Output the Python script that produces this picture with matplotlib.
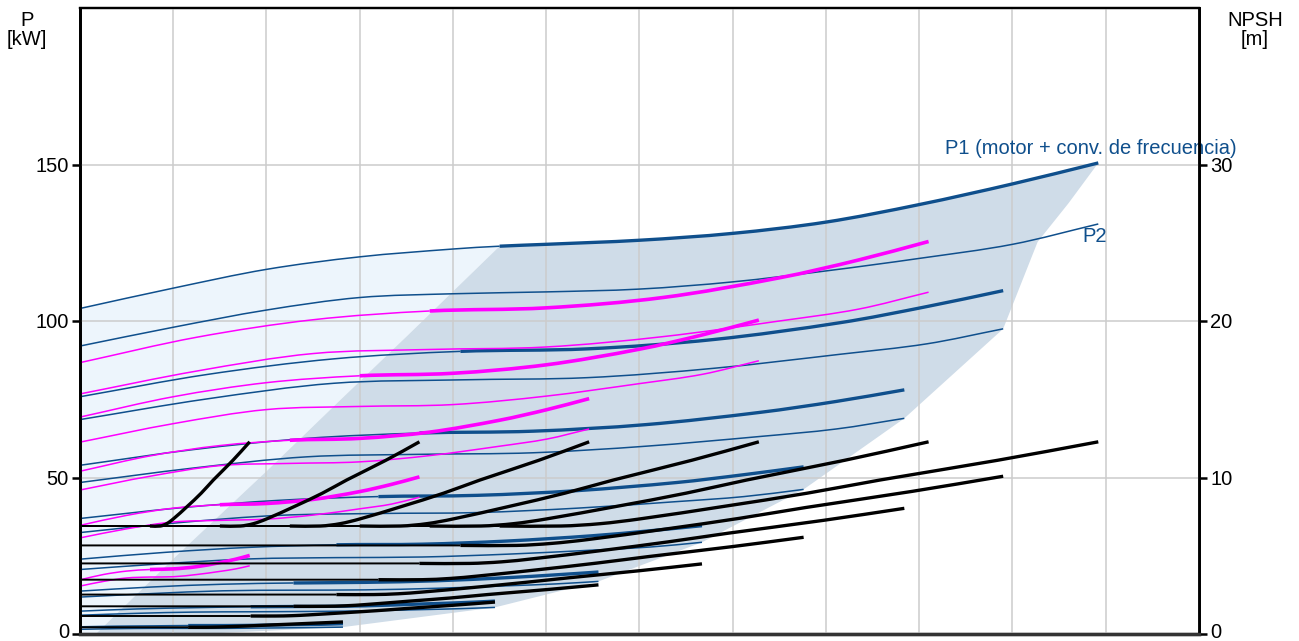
import matplotlib
matplotlib.use('Agg')
import matplotlib.pyplot as plt
import matplotlib.transforms as mtransforms
from matplotlib.path import Path
from matplotlib.patches import PathPatch

plt.rcParams['font.family'] = ['Liberation Sans', 'DejaVu Sans']

BLUE = '#0f4f8c'
MAGENTA = '#ff00ff'

# ---- 6 pumps on frequency converter, one P1/P2 pair per speed (left axis, kW)
b1_x = [0, 1, 2, 3, 4, 4.5, 5, 6, 7, 8, 9, 10, 10.92]
b1_p1 = [104, 110.5, 116.5, 120.5, 123, 123.9, 124.5, 125.8, 128, 131.6, 137.2, 143.8, 150.5]
b1_p2_x = [0, 1, 2, 3, 4, 5, 6, 7, 8, 9, 10, 10.92]
b1_p2 = [92, 98, 103.5, 107.5, 108.7, 109.3, 110.2, 112.5, 116, 120, 124.5, 131]

b2_x = [0, 1.36, 2.72, 4.08, 5.44, 6.8, 8.16, 9.08, 9.9]
b2_p1 = [75.8, 82.9, 87.9, 90.3, 91.1, 94.1, 99.5, 104.6, 109.7]
b2_p2 = [68.5, 75.1, 80.1, 81.2, 81.9, 84.9, 89.4, 92.7, 97.5]

b3_x = [0, 1.21, 2.43, 3.64, 4.86, 6.07, 7.29, 8.11, 8.84]
b3_p1 = [53.9, 58.9, 62.5, 64.2, 64.8, 66.9, 70.8, 74.3, 78.0]
b3_p2 = [48.4, 53.0, 56.6, 57.4, 57.9, 60.0, 63.1, 65.5, 68.9]

b4_x = [0, 1.07, 2.13, 3.2, 4.26, 5.33, 6.4, 7.12, 7.76]
b4_p1 = [36.9, 40.3, 42.7, 43.9, 44.3, 45.8, 48.4, 50.9, 53.4]
b4_p2 = [32.4, 35.6, 37.9, 38.5, 38.8, 40.2, 42.3, 43.9, 46.2]

b5_x = [0, 0.92, 1.83, 2.75, 3.67, 4.58, 5.5, 6.12, 6.67]
b5_p1 = [23.9, 26.1, 27.7, 28.5, 28.7, 29.7, 31.4, 33.0, 34.6]
b5_p2 = [20.6, 22.5, 24.0, 24.4, 24.6, 25.5, 26.8, 27.8, 29.3]

b6_x = [0, 0.76, 1.53, 2.29, 3.06, 3.82, 4.58, 5.1, 5.56]
b6_p1 = [13.7, 15.0, 15.9, 16.3, 16.5, 17.0, 18.0, 18.9, 19.8]
b6_p2 = [11.8, 12.9, 13.8, 14.0, 14.1, 14.6, 15.4, 16.0, 16.8]

b7_x = [0, 0.61, 1.22, 1.83, 2.45, 3.06, 3.67, 4.08, 4.45]
b7_p1 = [7.3, 8.0, 8.4, 8.7, 8.8, 9.0, 9.6, 10.0, 10.5]
b7_p2 = [6.0, 6.6, 7.0, 7.1, 7.2, 7.4, 7.8, 8.1, 8.5]

b8_x = [0, 0.39, 0.78, 1.16, 1.55, 1.94, 2.32, 2.59, 2.82]
b8_p1 = [2.3, 2.5, 2.6, 2.7, 2.7, 2.8, 3.0, 3.1, 3.3]
b8_p2 = [1.5, 1.7, 1.8, 1.8, 1.8, 1.9, 2.0, 2.1, 2.2]

# ---- 1 to 5 pumps at full speed (magenta)
m5_x = [0, 1.25, 2.5, 3.75, 5.0, 6.25, 7.5, 8.35, 9.1]
m5_p1 = [86.7, 94.8, 100.4, 103.2, 104.2, 107.5, 113.8, 119.5, 125.4]
m5_p2 = [76.7, 84.0, 89.6, 90.9, 91.7, 95.0, 100.0, 103.8, 109.2]

m4_x = [0, 1, 2, 3, 4, 5, 6, 6.68, 7.28]
m4_p1 = [69.3, 75.8, 80.3, 82.5, 83.3, 86.0, 91.0, 95.6, 100.3]
m4_p2 = [61.3, 67.2, 71.7, 72.7, 73.3, 76.0, 80.0, 83.0, 87.3]

m3_x = [0, 0.75, 1.5, 2.25, 3.0, 3.75, 4.5, 5.01, 5.46]
m3_p1 = [52.0, 56.9, 60.2, 61.9, 62.5, 64.5, 68.3, 71.7, 75.2]
m3_p2 = [46.0, 50.4, 53.8, 54.5, 55.0, 57.0, 60.0, 62.3, 65.5]

m2_x = [0, 0.5, 1.0, 1.5, 2.0, 2.5, 3.0, 3.34, 3.64]
m2_p1 = [34.7, 37.9, 40.2, 41.3, 41.7, 43.0, 45.5, 47.8, 50.2]
m2_p2 = [30.7, 33.6, 35.8, 36.3, 36.7, 38.0, 40.0, 41.5, 43.7]

m1_x = [0, 0.25, 0.5, 0.75, 1.0, 1.25, 1.5, 1.67, 1.82]
m1_p1 = [17.3, 19.0, 20.1, 20.6, 20.8, 21.5, 22.8, 23.9, 25.1]
m1_p2 = [15.3, 16.8, 17.9, 18.2, 18.3, 19.0, 20.0, 20.8, 21.8]

# ---- NPSH curves (right axis, m)
k1_x = [0, 0.75, 0.86, 0.93, 1.0, 1.15, 1.3, 1.43, 1.64, 1.82]
k2_x = [0, 1.5, 1.72, 1.86, 2.0, 2.3, 2.6, 2.86, 3.28, 3.64]
k3_x = [0, 2.25, 2.58, 2.79, 3.0, 3.45, 3.9, 4.29, 4.92, 5.46]
k4_x = [0, 3.0, 3.44, 3.72, 4.0, 4.6, 5.2, 5.72, 6.56, 7.28]
k5_x = [0, 3.75, 4.3, 4.65, 5.0, 5.75, 6.5, 7.15, 8.2, 9.1]
k_npsh = [6.9, 6.9, 6.9, 7.05, 7.35, 8.15, 9.0, 9.84, 11.1, 12.28]

f1_x = [0, 4.5, 5.16, 5.58, 6.0, 6.9, 7.8, 8.58, 9.84, 10.92]
f1_npsh = [6.9, 6.9, 6.9, 7.05, 7.35, 8.15, 9.0, 9.84, 11.1, 12.28]
f2_x = [0, 4.08, 4.68, 5.06, 5.44, 6.26, 7.07, 7.78, 8.92, 9.9]
f2_npsh = [5.66, 5.66, 5.66, 5.79, 6.03, 6.69, 7.39, 8.08, 9.11, 10.08]
f3_x = [0, 3.64, 4.18, 4.52, 4.86, 5.59, 6.31, 6.95, 7.97, 8.84]
f3_npsh = [4.51, 4.51, 4.51, 4.61, 4.81, 5.33, 5.89, 6.44, 7.26, 8.03]
f4_x = [0, 3.2, 3.67, 3.97, 4.26, 4.9, 5.54, 6.1, 6.99, 7.76]
f4_npsh = [3.47, 3.47, 3.47, 3.55, 3.7, 4.1, 4.53, 4.95, 5.58, 6.18]
f5_x = [0, 2.75, 3.15, 3.41, 3.67, 4.21, 4.76, 5.24, 6.01, 6.67]
f5_npsh = [2.52, 2.52, 2.52, 2.57, 2.68, 2.97, 3.29, 3.59, 4.05, 4.48]
f6_x = [0, 2.29, 2.63, 2.84, 3.06, 3.51, 3.97, 4.37, 5.01, 5.56]
f6_npsh = [1.77, 1.77, 1.77, 1.8, 1.88, 2.09, 2.3, 2.52, 2.84, 3.14]
f7_x = [0, 1.83, 2.1, 2.27, 2.45, 2.81, 3.18, 3.5, 4.01, 4.45]
f7_npsh = [1.15, 1.15, 1.15, 1.17, 1.22, 1.35, 1.49, 1.63, 1.84, 2.04]
f8_x = [0, 1.16, 1.33, 1.44, 1.55, 1.78, 2.01, 2.22, 2.54, 2.82]
f8_npsh = [0.43, 0.43, 0.43, 0.44, 0.46, 0.51, 0.57, 0.62, 0.7, 0.77]

# ---- shaded operating area
min_flow_x = [0.17, 1.0, 2.0, 2.8, 3.5, 4.5]
min_flow_p = [0, 24, 52, 75, 95, 123.9]
p1_end_x = [10.92, 10.6, 10.27]
p1_end_p = [150.5, 137.6, 125.3]
p2_end_x = [10.92, 10.5, 10.27, 9.9, 8.84, 7.76, 6.67, 5.56, 4.45, 2.82, 1.5, 0.17]
p2_end_p = [131, 127.2, 125.3, 97.5, 68.9, 46.2, 29.3, 16.8, 8.5, 2.2, 0.3, 0]


def smooth_path(x, y, i0, i1):
	# cubic bezier pieces through the points i0..i1 (slopes taken from neighbours)
	n = len(x)
	def slope(i):
		a = max(i - 1, 0)
		b = min(i + 1, n - 1)
		return (y[b] - y[a]) / (x[b] - x[a])
	verts = [(x[i0], y[i0])]
	codes = [Path.MOVETO]
	for i in range(i0, i1):
		h = x[i + 1] - x[i]
		verts.append((x[i] + h / 3, y[i] + slope(i) * h / 3))
		verts.append((x[i + 1] - h / 3, y[i + 1] - slope(i + 1) * h / 3))
		verts.append((x[i + 1], y[i + 1]))
		codes += [Path.CURVE4] * 3
	return Path(verts, codes)


def draw(ax, x, y, color, thick_from, lw_thin, lw_thick, z):
	# thin part left of the preferred range, thick part after it
	n = len(x) - 1
	if thick_from > 0:
		ax.add_patch(PathPatch(smooth_path(x, y, 0, thick_from), fill=False,
							   edgecolor=color, lw=lw_thin, capstyle='butt', zorder=z))
	if thick_from < n:
		ax.add_patch(PathPatch(smooth_path(x, y, thick_from, n), fill=False,
							   edgecolor=color, lw=lw_thick, capstyle='butt', zorder=z))


fig = plt.figure(figsize=(12.99, 6.41), dpi=100)
ax = fig.add_axes([80 / 1299, 7 / 641, 1119 / 1299, 626 / 641])
ax.set_xlim(0, 12)
ax.set_ylim(0, 200)

# light area at low flow, darker area to the right of the min flow line
light_x = [0] + b1_x[:6] + min_flow_x[::-1] + [0]
light_y = [0] + b1_p1[:6] + min_flow_p[::-1] + [0]
ax.fill(light_x, light_y, color='#edf5fc', lw=0, zorder=0.5)

dark_x = min_flow_x + b1_x[5:] + p1_end_x[1:] + p2_end_x[1:]
dark_y = min_flow_p + b1_p1[5:] + p1_end_p[1:] + p2_end_p[1:]
ax.fill(dark_x, dark_y, color='#cfdce8', lw=0, zorder=0.6)

ax.set_xticks(range(13))
ax.set_yticks([0, 50, 100, 150])
ax.grid(True, color='#cccccc', lw=1.1, zorder=1)
ax.set_axisbelow(False)
for line in ax.get_xgridlines() + ax.get_ygridlines():
	line.set_zorder(1)

blue_sets = [
	(b2_x, b2_p1, b2_p2), (b3_x, b3_p1, b3_p2), (b4_x, b4_p1, b4_p2),
	(b5_x, b5_p1, b5_p2), (b6_x, b6_p1, b6_p2), (b7_x, b7_p1, b7_p2),
	(b8_x, b8_p1, b8_p2),
]
draw(ax, b1_x, b1_p1, BLUE, 5, 1.1, 2.4, 3)
draw(ax, b1_p2_x, b1_p2, BLUE, 0, 1.1, 1.1, 3)
for x, p1, p2 in blue_sets:
	draw(ax, x, p1, BLUE, 3, 1.1, 2.4, 3)
	draw(ax, x, p2, BLUE, 0, 1.1, 1.1, 3)

magenta_sets = [
	(m5_x, m5_p1, m5_p2), (m4_x, m4_p1, m4_p2), (m3_x, m3_p1, m3_p2),
	(m2_x, m2_p1, m2_p2), (m1_x, m1_p1, m1_p2),
]
for x, p1, p2 in magenta_sets:
	draw(ax, x, p1, MAGENTA, 3, 1.1, 2.6, 4)
	draw(ax, x, p2, MAGENTA, 0, 1.1, 1.1, 4)

ax.text(9.28, 155, 'P1 (motor + conv. de frecuencia)', color=BLUE, fontsize=14.5,
		ha='left', va='center', zorder=6)
ax.text(10.75, 127, 'P2', color=BLUE, fontsize=14.5, ha='left', va='center', zorder=6)

ax2 = ax.twinx()
ax2.set_ylim(0, 40)
ax2.set_yticks([0, 10, 20, 30])

npsh_sets = [
	(k1_x, k_npsh), (k2_x, k_npsh), (k3_x, k_npsh), (k4_x, k_npsh), (k5_x, k_npsh),
	(f1_x, f1_npsh), (f2_x, f2_npsh), (f3_x, f3_npsh), (f4_x, f4_npsh),
	(f5_x, f5_npsh), (f6_x, f6_npsh), (f7_x, f7_npsh), (f8_x, f8_npsh),
]
for x, n in npsh_sets:
	draw(ax2, x, n, 'black', 1, 1.4, 2.4, 5)

# axes frame and ticks
for a in (ax, ax2):
	a.spines['left'].set_linewidth(2)
	a.spines['right'].set_linewidth(2)
	a.spines['top'].set_linewidth(1.6)
	a.spines['bottom'].set_linewidth(2.4)
	a.spines['bottom'].set_color('#333333')
	a.tick_params(axis='x', length=0, labelbottom=False)
	a.tick_params(axis='y', direction='out', length=6, width=1.8, labelsize=14.5, pad=2)

# keep the two "0" labels inside the picture
fig.canvas.draw()
lift = mtransforms.ScaledTranslation(0, 4 / 100, fig.dpi_scale_trans)
for lab in [ax.get_yticklabels()[0], ax2.get_yticklabels()[0]]:
	lab.set_transform(lab.get_transform() + lift)

fig.text(27 / 1299, 1 - 11 / 641, 'P\n[kW]', ha='center', va='top', fontsize=14.5,
		 linespacing=1.0)
fig.text(1255 / 1299, 1 - 11 / 641, 'NPSH\n[m]', ha='center', va='top', fontsize=14.5,
		 linespacing=1.0)

fig.savefig('out.png', dpi=100)
